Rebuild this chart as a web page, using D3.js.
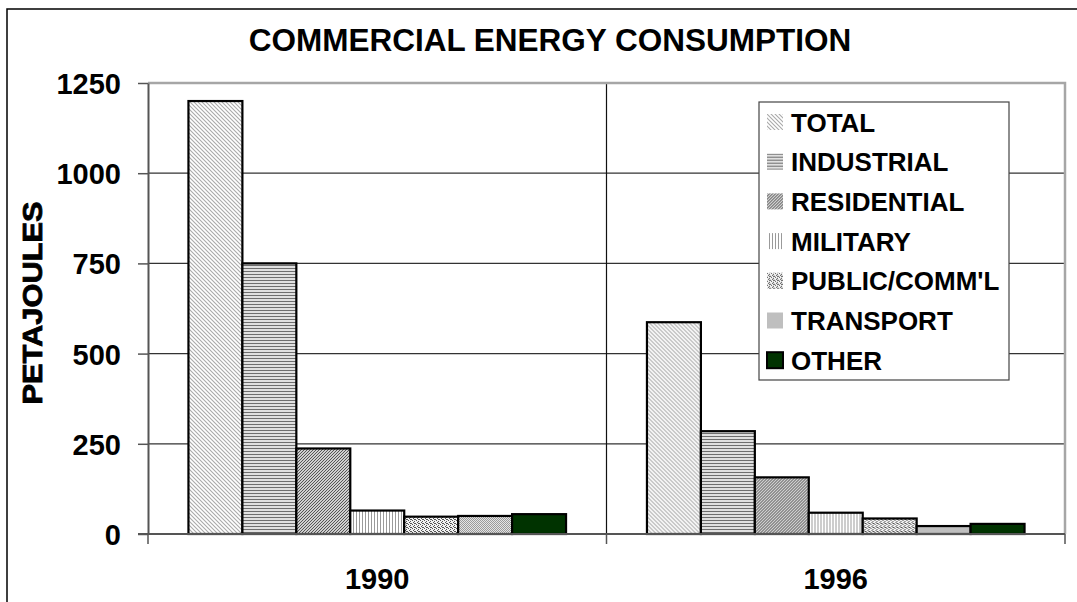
<html>
  <head>
    <style>
      body { margin: 0; background: #fff; }
      text { font-family: "Liberation Sans", Arial, sans-serif; font-weight: bold; fill: #000; }
    </style>
  </head>
  <body>
    <script src="https://cdn.jsdelivr.net/npm/d3@7"></script>
    <script>
    var width = 1077, height = 602;

    // data
    var years = ["1990", "1996"];
    var sectors = ["TOTAL", "INDUSTRIAL", "RESIDENTIAL", "MILITARY", "PUBLIC/COMM'L", "TRANSPORT", "OTHER"];
    var values1990 = [1200, 750, 237, 65, 48, 50, 55];
    var values1996 = [587, 285, 157, 59, 43, 22, 28];
    var yTicks = [0, 250, 500, 750, 1000, 1250];

    var values = { "1990": values1990, "1996": values1996 };

    var svg = d3.select("body")
        .append("svg")
        .attr("width", width)
        .attr("height", height);

    // fill patterns, one per sector
    var defs = svg.append("defs");

    function pat(id, w, h, bg) {
      var p = defs.append("pattern")
          .attr("id", id)
          .attr("patternUnits", "userSpaceOnUse")
          .attr("width", w).attr("height", h);
      p.append("rect").attr("width", w).attr("height", h).attr("fill", bg);
      return p;
    }

    pat("p-total", 4, 4, "#fff")
      .append("path").attr("d", "M0,0L4,4M-1,3L1,5M3,-1L5,1")
      .attr("stroke", "#aaa").attr("stroke-width", 1.1);

    pat("p-industrial", 4, 3, "#e6e6e6")
      .append("path").attr("d", "M0,1.5H4")
      .attr("stroke", "#6e6e6e").attr("stroke-width", 1.1);

    pat("p-residential", 3, 3, "#cfcfcf")
      .append("path").attr("d", "M0,3L3,0M-1,1L1,-1M2,4L4,2")
      .attr("stroke", "#555").attr("stroke-width", 1);

    pat("p-military", 3, 4, "#fff")
      .append("path").attr("d", "M1.5,0V4")
      .attr("stroke", "#9a9a9a").attr("stroke-width", 1);

    var pub = pat("p-public", 4, 4, "#f2f2f2");
    [[0, 0], [2, 1], [1, 2], [3, 3], [2, 3]].forEach(function(d) {
      pub.append("rect").attr("x", d[0]).attr("y", d[1]).attr("width", 1).attr("height", 1).attr("fill", "#555");
    });

    var tr = pat("p-transport", 2, 2, "#e4e4e4");
    tr.append("rect").attr("width", 1).attr("height", 1).attr("fill", "#9a9a9a");
    tr.append("rect").attr("x", 1).attr("y", 1).attr("width", 1).attr("height", 1).attr("fill", "#9a9a9a");

    var fills = ["url(#p-total)", "url(#p-industrial)", "url(#p-residential)", "url(#p-military)",
                 "url(#p-public)", "url(#p-transport)", "#003300"];
    var color = d3.scaleOrdinal().domain(sectors).range(fills);

    // outer chart frame (runs off the right and bottom edge)
    svg.append("rect")
        .attr("x", 7).attr("y", 9)
        .attr("width", width + 20).attr("height", height + 20)
        .attr("fill", "none").attr("stroke", "#000").attr("stroke-width", 1.5);

    var x = d3.scaleBand().domain(years).range([148, 1065]).padding(0);
    var xi = d3.scaleBand().domain(sectors).range([0, x.bandwidth()]).paddingInner(0).paddingOuter(0.75);
    var y = d3.scaleLinear().domain([0, 1250]).range([534, 83]);

    // gridlines
    svg.append("g")
      .selectAll("line")
      .data(yTicks.filter(function(d) { return d > 0 && d < 1250; }))
      .enter().append("line")
        .attr("x1", x.range()[0]).attr("x2", x.range()[1])
        .attr("y1", function(d) { return y(d); })
        .attr("y2", function(d) { return y(d); })
        .attr("stroke", "#333").attr("stroke-width", 1.2);

    // divider between the two years
    svg.append("line")
        .attr("x1", x("1996")).attr("x2", x("1996"))
        .attr("y1", y(1250)).attr("y2", y(0))
        .attr("stroke", "#111").attr("stroke-width", 1.2);

    // plot frame top and right
    svg.append("path")
        .attr("d", "M" + x.range()[0] + "," + y(1250) + "H" + x.range()[1] + "V" + y(0))
        .attr("fill", "none").attr("stroke", "#a6a6a6").attr("stroke-width", 2.5);

    // bars
    var groups = svg.append("g")
      .selectAll("g")
      .data(years)
      .enter().append("g")
        .attr("transform", function(d) { return "translate(" + x(d) + ",0)"; });

    groups.selectAll("rect")
      .data(function(yr) { return sectors.map(function(s, i) { return { key: s, value: values[yr][i] }; }); })
      .enter().append("rect")
        .attr("x", function(d) { return xi(d.key); })
        .attr("width", xi.bandwidth())
        .attr("y", function(d) { return y(d.value); })
        .attr("height", function(d) { return y(0) - y(d.value); })
        .attr("fill", function(d) { return color(d.key); })
        .attr("stroke", "#000")
        .attr("stroke-width", 2.2);

    // y axis
    var yAxis = svg.append("g")
        .attr("transform", "translate(" + x.range()[0] + ",0)")
        .call(d3.axisLeft(y).tickValues(yTicks).tickFormat(d3.format("d"))
          .tickSize(10).tickPadding(17).tickSizeOuter(0));
    yAxis.attr("font-family", null);
    yAxis.select(".domain").attr("stroke", "#555").attr("stroke-width", 2);
    yAxis.selectAll(".tick line").attr("stroke", "#555").attr("stroke-width", 1.5);
    yAxis.selectAll(".tick text").attr("font-size", 29).attr("dy", "0.36em");

    // x axis: baseline, boundary ticks, year labels
    svg.append("line")
        .attr("x1", x.range()[0] - 10).attr("x2", x.range()[1])
        .attr("y1", y(0)).attr("y2", y(0))
        .attr("stroke", "#555").attr("stroke-width", 2);

    var bounds = years.map(function(d) { return x(d); }).concat([x.range()[1]]);
    svg.append("g")
      .selectAll("line")
      .data(bounds)
      .enter().append("line")
        .attr("x1", function(d) { return d; }).attr("x2", function(d) { return d; })
        .attr("y1", y(0)).attr("y2", y(0) + 10)
        .attr("stroke", "#555").attr("stroke-width", 1.5);

    svg.append("g")
      .selectAll("text")
      .data(years)
      .enter().append("text")
        .attr("x", function(d) { return x(d) + x.bandwidth() / 2; })
        .attr("y", 589)
        .attr("text-anchor", "middle")
        .attr("font-size", 29)
        .text(function(d) { return d; });

    // title
    svg.append("text")
        .attr("x", 550).attr("y", 51)
        .attr("text-anchor", "middle")
        .attr("font-size", 31.5)
        .text("COMMERCIAL ENERGY CONSUMPTION");

    // y title (squeezed like the original)
    svg.append("text")
        .attr("transform", "translate(42,303) rotate(-90)")
        .attr("text-anchor", "middle")
        .attr("font-size", 28)
        .attr("stroke", "#000").attr("stroke-width", 0.8)
        .attr("textLength", 203)
        .attr("lengthAdjust", "spacingAndGlyphs")
        .text("PETAJOULES");

    // legend
    var legend = svg.append("g").attr("transform", "translate(759,102)");
    legend.append("rect")
        .attr("width", 250).attr("height", 278)
        .attr("fill", "#fff").attr("stroke", "#444").attr("stroke-width", 1.2);

    var item = legend.selectAll("g.item")
      .data(sectors)
      .enter().append("g")
        .attr("class", "item")
        .attr("transform", function(d, i) { return "translate(0," + (20 + i * 39.7) + ")"; });

    item.append("rect")
        .attr("x", 8).attr("y", -8)
        .attr("width", 16).attr("height", 16)
        .attr("fill", function(d) { return color(d); })
        .attr("stroke", function(d) { return d === "OTHER" ? "#000" : "none"; })
        .attr("stroke-width", 2);

    item.append("text")
        .attr("x", 32).attr("y", 9.5)
        .attr("font-size", 26)
        .text(function(d) { return d; });
    </script>
  </body>
</html>
